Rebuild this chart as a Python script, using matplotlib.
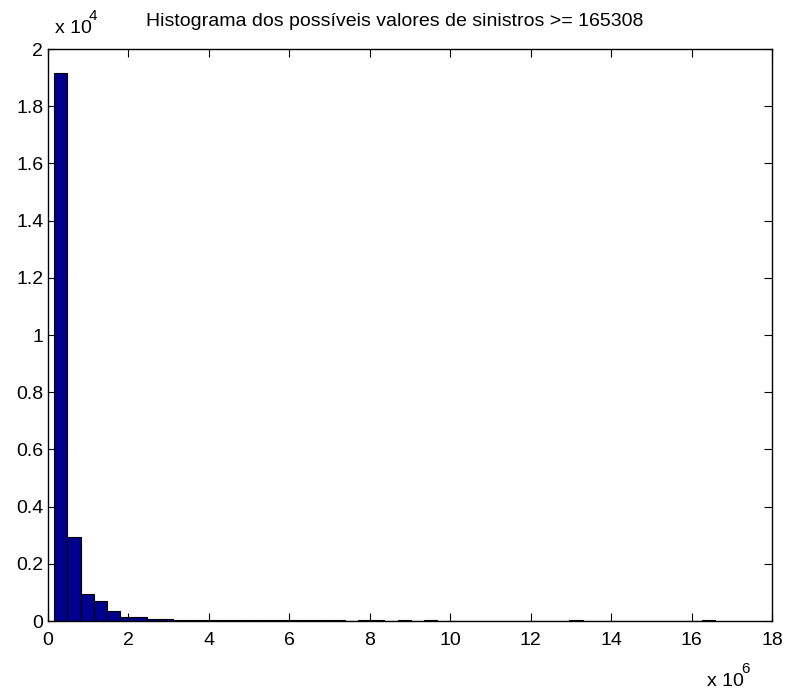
import matplotlib
matplotlib.use("Agg")
import matplotlib.pyplot as plt
import numpy as np

plt.rcParams['font.family'] = ['Liberation Sans', 'DejaVu Sans']

# Histogram data (50 bins between min and max claim value)
x_min = 165308
x_max = 16.58e6
n_bins = 50
counts = [19160, 2940, 930, 700, 350, 150, 150, 80,
          55, 50, 50, 45, 45, 40, 40, 40, 35, 35, 35, 35, 30, 30,
          0, 30, 30, 0, 30, 0, 30,
          0, 0, 0, 0, 0, 0, 0, 0, 0, 0, 30,
          0, 0, 0, 0, 0, 0, 0, 0, 0, 30]

title = "Histograma dos possíveis valores de sinistros >= 165308"
xticks = [0, 2, 4, 6, 8, 10, 12, 14, 16, 18]
yticks = [0, 0.2, 0.4, 0.6, 0.8, 1, 1.2, 1.4, 1.6, 1.8, 2]

edges = np.linspace(x_min, x_max, n_bins + 1)
width = edges[1] - edges[0]

fig = plt.figure(figsize=(7.88, 6.91), dpi=100)
fig.patch.set_facecolor('white')
ax = fig.add_axes([47.5/788, 1 - 621/691, (772 - 47.5)/788, (621 - 49)/691])

ax.bar(edges[:-1], counts, width=width, align='edge',
       color='#00008F', edgecolor='black', linewidth=0.8)

ax.set_xlim(0, 18e6)
ax.set_ylim(0, 2e4)
ax.set_xticks([v * 1e6 for v in xticks])
ax.set_xticklabels([f"{v:g}" for v in xticks])
ax.set_yticks([v * 1e4 for v in yticks])
ax.set_yticklabels([f"{v:g}" for v in yticks])

ax.tick_params(direction='in', length=6, width=0.8, top=True, right=True,
               labelsize=14)
ax.tick_params(axis='x', pad=8)
ax.tick_params(axis='y', pad=3)
for s in ax.spines.values():
    s.set_linewidth(1.0)

fig.text(394.5/788, 1 - 22/691, title, ha='center', va='center', fontsize=14)
# exponent labels (MATLAB style)
fig.text(55/788, 1 - 33/691, "x 10", ha='left', va='baseline', fontsize=14)
fig.text(89/788, 1 - 20/691, "4", ha='left', va='baseline', fontsize=11)
fig.text(707/788, 1 - 686/691, "x 10", ha='left', va='baseline', fontsize=14)
fig.text(741/788, 1 - 673/691, "6", ha='left', va='baseline', fontsize=11)

fig.savefig("out.png", dpi=100, facecolor='white')
